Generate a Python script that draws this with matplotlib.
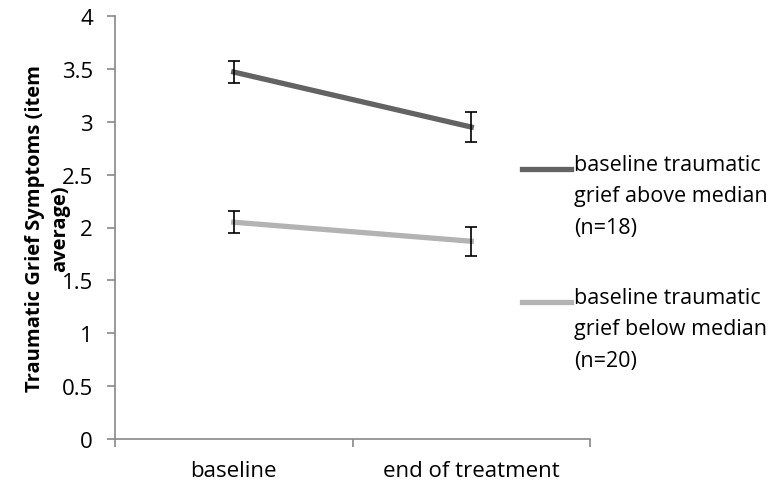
import matplotlib

matplotlib.use("Agg")
import matplotlib.pyplot as plt
from matplotlib.lines import Line2D

plt.rcParams["font.family"] = ["Open Sans", "DejaVu Sans"]

TIMEPOINTS = ["baseline", "end of treatment"]
ABOVE_MEAN = [3.47, 2.95]
ABOVE_ERR = [0.105, 0.145]
BELOW_MEAN = [2.05, 1.87]
BELOW_ERR = [0.105, 0.135]
SERIES_LABELS = [
    "baseline traumatic\ngrief above median\n(n=18)",
    "baseline traumatic\ngrief below median\n(n=20)",
]
YTICKS = [0, 0.5, 1, 1.5, 2, 2.5, 3, 3.5, 4]

DARK = "#636363"
LIGHT = "#b3b3b3"
AXIS_GREY = "#888888"
FS = 16


def main() -> None:
    fig = plt.figure(figsize=(7.8, 4.89), dpi=100)
    ax = fig.add_axes([115 / 780, 49 / 489, 475 / 780, 423 / 489])

    xpos = [i + 0.5 for i in range(len(TIMEPOINTS))]
    for mean, err, color in [(ABOVE_MEAN, ABOVE_ERR, DARK), (BELOW_MEAN, BELOW_ERR, LIGHT)]:
        ax.plot(xpos, mean, color=color, lw=3.8, zorder=2)
        ax.errorbar(xpos, mean, yerr=err, fmt="none", ecolor="black",
                    elinewidth=1.2, capsize=4, capthick=1.2, zorder=3)

    ax.set_xlim(0, len(TIMEPOINTS))
    ax.set_ylim(0, 4)
    ax.set_yticks(YTICKS)
    ax.set_yticklabels([f"{v:g}" for v in YTICKS], fontsize=FS)
    ax.set_xticks(range(len(TIMEPOINTS) + 1))
    ax.set_xticklabels([])
    ax.set_xticks(xpos, minor=True)
    ax.set_xticklabels(TIMEPOINTS, minor=True, fontsize=FS)
    ax.tick_params(axis="x", which="minor", length=0, pad=15)
    ax.tick_params(axis="x", which="major", length=6, color=AXIS_GREY, width=1.2)
    ax.tick_params(axis="y", length=6, color=AXIS_GREY, width=1.2, pad=10)

    for side in ["top", "right"]:
        ax.spines[side].set_visible(False)
    for side in ["left", "bottom"]:
        ax.spines[side].set_color(AXIS_GREY)
        ax.spines[side].set_linewidth(1.2)

    ax.set_ylabel("Traumatic Grief Symptoms (item\naverage)", fontsize=14.5,
                  fontweight="bold", linespacing=1.3, va="center")
    ax.yaxis.set_label_coords(-0.142, 0.5)

    # legend drawn by hand so the swatch sits on the first text line
    for i, (label, color) in enumerate(zip(SERIES_LABELS, [DARK, LIGHT])):
        y_top = 1 - (170 + i * 133) / 489
        fig.add_artist(Line2D([522 / 780, 571 / 780], [y_top, y_top],
                              color=color, lw=3.8))
        fig.text(574 / 780, y_top + 15 / 489, label, fontsize=15.5,
                 va="top", ha="left", linespacing=1.65)

    fig.savefig("out.png", dpi=100)
    plt.close(fig)


if __name__ == "__main__":
    main()
